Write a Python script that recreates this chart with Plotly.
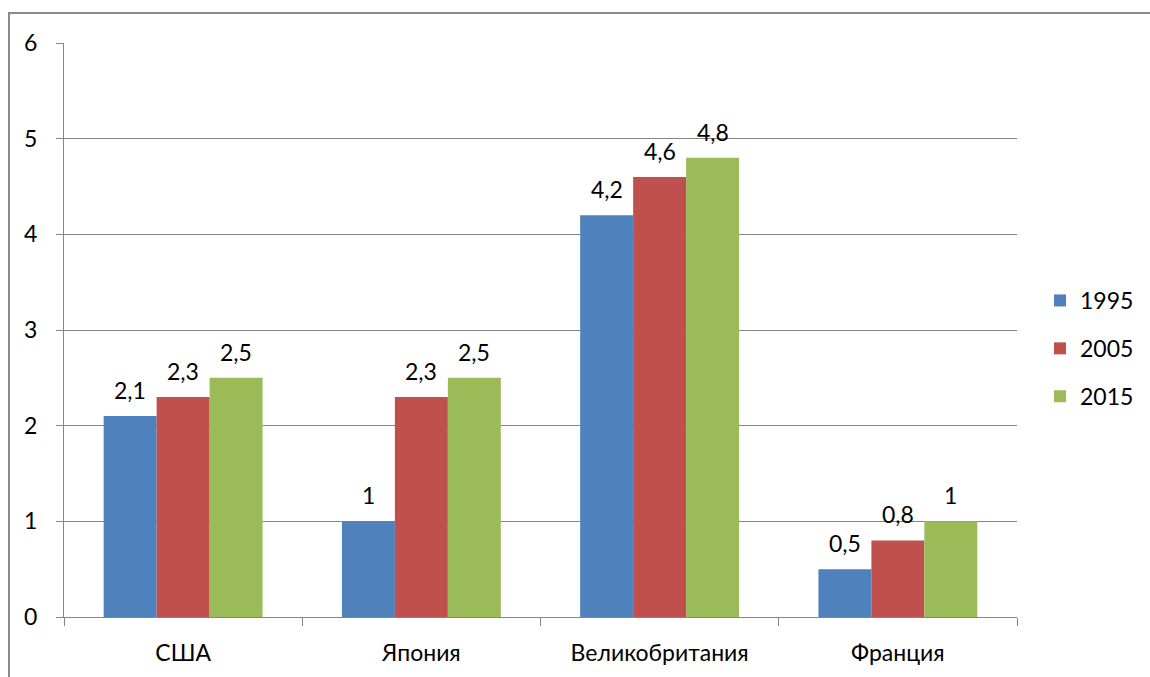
import plotly.graph_objects as go

categories = ["США", "Япония", "Великобритания", "Франция"]
years = ["1995", "2005", "2015"]
v1995 = [2.1, 1, 4.2, 0.5]
v2005 = [2.3, 2.3, 4.6, 0.8]
v2015 = [2.5, 2.5, 4.8, 1]
colors = ["#4F81BD", "#C0504D", "#9BBB59"]

FONT = "Lato"
FS = 23
L, R, T, B = 64, 1017, 43, 617
W, H = 1150, 677
pw, ph = R - L, B - T
BARGAP = 0.333
series = [v1995, v2005, v2015]
barw = pw / len(categories) * (1 - BARGAP) / len(series)

fig = go.Figure()
annotations = []
for i, (name, vals, c) in enumerate(zip(years, series, colors)):
    fig.add_trace(go.Bar(
        x=categories, y=vals, name=name, legendgroup=name,
        marker=dict(color=c, line=dict(width=0)),
    ))
    for cat, v in zip(categories, vals):
        annotations.append(dict(
            x=cat, y=v, xref="x", yref="y", text=str(v).replace(".", ","),
            showarrow=False, xanchor="center", yanchor="middle",
            xshift=(i - 1) * barw, yshift=26,
            font=dict(size=FS, color="#000000", family=FONT)))

fig.update_layout(
    width=W, height=H,
    margin=dict(l=L, r=W - R, t=T, b=H - B, autoexpand=False),
    barmode="group", bargap=BARGAP, bargroupgap=0,
    plot_bgcolor="white", paper_bgcolor="white",
    font=dict(family=FONT, size=FS, color="#000000"),
    legend=dict(x=(1040 - L) / pw, y=(B - 300 + 21) / ph, xanchor="left", yanchor="top",
                font=dict(size=FS, family=FONT), itemwidth=30, tracegroupgap=15,
                traceorder="grouped", bgcolor="rgba(0,0,0,0)"),
    xaxis=dict(showline=True, linecolor="#868686", linewidth=1, ticks="outside",
               tickson="boundaries", ticklen=8, tickcolor="#868686",
               tickfont=dict(size=FS), showgrid=False, ticklabelstandoff=15),
    yaxis=dict(range=[0, 6], dtick=1, showline=True, linecolor="#868686", linewidth=1,
               ticks="outside", ticklen=7, tickcolor="#868686", gridcolor="#868686",
               gridwidth=1, tickfont=dict(size=FS), ticklabelstandoff=14, zeroline=False),
    annotations=annotations,
    shapes=[
        dict(type="rect", xref="paper", yref="paper",
             x0=(8 - L) / pw, x1=(W - L) / pw, y0=(B - 14) / ph, y1=(B - 12) / ph,
             line=dict(width=0), fillcolor="#8a8a8a"),
        dict(type="rect", xref="paper", yref="paper",
             x0=(8 - L) / pw, x1=(10 - L) / pw, y0=(B - H - 5) / ph, y1=(B - 12) / ph,
             line=dict(width=0), fillcolor="#8a8a8a"),
    ],
)
fig.write_html("out.html")
